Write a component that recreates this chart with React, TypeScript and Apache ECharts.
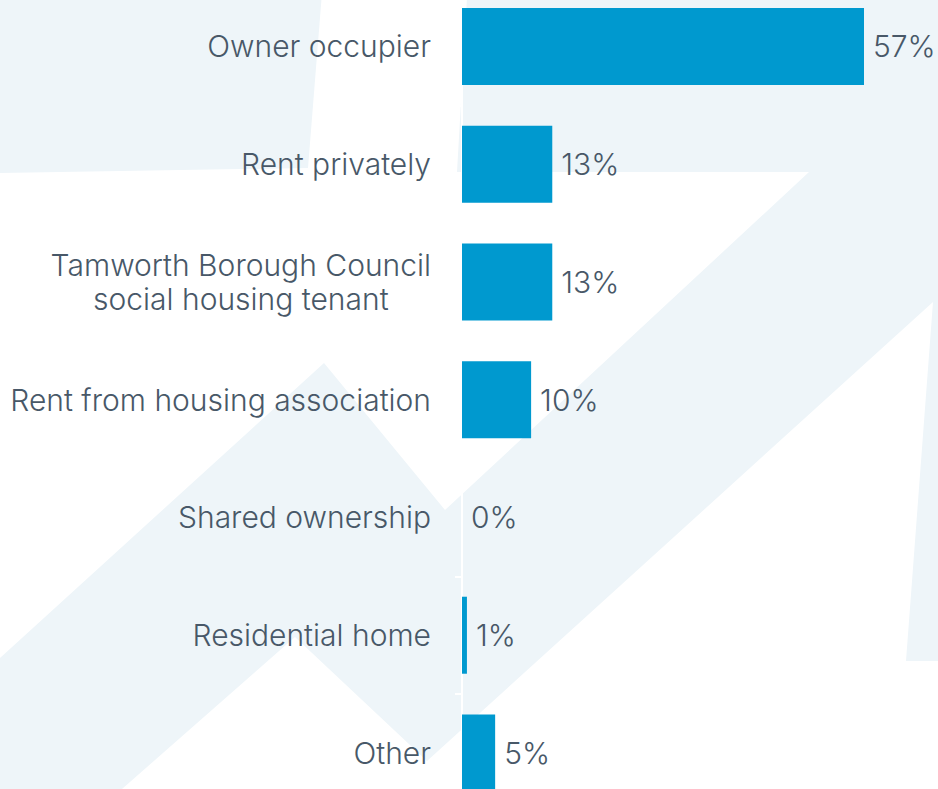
import React, { useEffect, useRef } from "react";
import * as echarts from "echarts";

const categories = [
  "Owner occupier",
  "Rent privately",
  "Tamworth Borough Council\nsocial housing tenant",
  "Rent from housing association",
  "Shared ownership",
  "Residential home",
  "Other",
];
// values; labels show them rounded
const values = [57, 12.8, 12.8, 9.8, 0, 0.7, 4.7];

const LIGHT = "#eef5f9";
const TEXT = "#485868";
const FONT = "Inter, 'Open Sans', sans-serif";
const OFFSET = 13; // chart canvas starts 13px above the visible frame

export default function App() {
  const ref = useRef<HTMLDivElement>(null);
  useEffect(() => {
    document.body.style.margin = "0";
    const chart = echarts.init(ref.current!, null, { renderer: "svg" });
    chart.setOption({
      animation: false,
      backgroundColor: "#ffffff",
      graphic: [
        {
          type: "group",
          x: 0,
          y: OFFSET,
          silent: true,
          z: -10,
          children: [
            {
              type: "polygon",
              z: -10,
              shape: { points: [[0, -20], [323, -20], [308, 168], [0, 173]] },
              style: { fill: LIGHT },
            },
            {
              type: "polygon",
              z: -10,
              shape: {
                points: [
                  [0, 658], [324, 363], [445, 510], [809, 172], [457, 172], [468, -20],
                  [938, -20], [938, 661], [906, 661], [933, 302], [427, 761], [295, 637],
                  [122, 789], [100, 820], [0, 820],
                ],
              },
              style: { fill: LIGHT },
            },
          ],
        },
      ],
      grid: { left: 462, width: 402, top: 0.6, height: 824.25, containLabel: false },
      xAxis: {
        type: "value",
        min: 0,
        max: "dataMax",
        show: false,
      },
      yAxis: {
        type: "category",
        data: categories,
        inverse: true,
        axisLine: { show: true, lineStyle: { color: "#ffffff", width: 2 } },
        axisTick: { show: true, length: 7, lineStyle: { color: "#ffffff", width: 2 } },
        axisLabel: {
          margin: 31,
          align: "right",
          color: TEXT,
          fontFamily: FONT,
          fontSize: 30,
          fontWeight: 300,
          lineHeight: 34,
          formatter: (v: string) =>
            v.split("\n").map((s) => `{c|${s}}`).join("\n"),
          rich: {
            c: {
              align: "center",
              color: TEXT,
              fontFamily: FONT,
              fontSize: 30,
              fontWeight: 300,
              lineHeight: 34,
            },
          },
        },
        splitLine: { show: false },
      },
      series: [
        {
          type: "bar",
          data: values,
          barWidth: 77,
          itemStyle: { color: "#0099cf" },
          label: {
            show: true,
            position: "right",
            distance: 9,
            formatter: (p: any) => `${Math.round(p.value)}%`,
            color: TEXT,
            fontFamily: FONT,
            fontSize: 30,
            fontWeight: 300,
          },
        },
      ],
    });
    return () => chart.dispose();
  }, []);
  return (
    <div style={{ position: "relative", width: 938, height: 789, overflow: "hidden" }}>
      <div
        ref={ref}
        style={{ position: "absolute", left: 0, top: -OFFSET, width: 938, height: 789 + OFFSET + 24 }}
      />
    </div>
  );
}
